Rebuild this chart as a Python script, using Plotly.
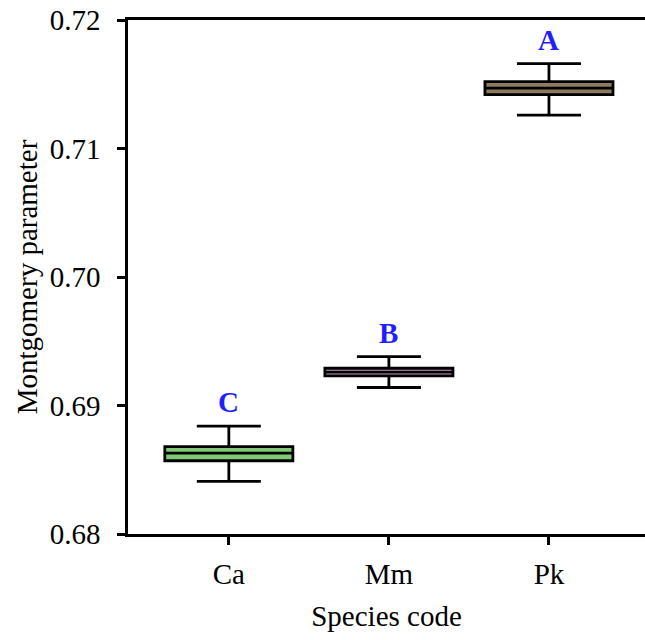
import plotly.graph_objects as go

species = ["Ca", "Mm", "Pk"]
lower = [0.6841, 0.6914, 0.7126]
q1 = [0.6857, 0.6923, 0.7142]
median = [0.6863, 0.6926, 0.7147]
q3 = [0.6868, 0.6929, 0.7152]
upper = [0.6884, 0.6938, 0.7166]
letters = ["C", "B", "A"]
colors = ["#7fc977", "#c29ec2", "#8c7b5c"]

SERIF = "Liberation Serif, Times New Roman, serif"

fig = go.Figure()
for i, sp in enumerate(species):
    fig.add_trace(go.Box(
        x=[sp], q1=[q1[i]], median=[median[i]], q3=[q3[i]],
        lowerfence=[lower[i]], upperfence=[upper[i]],
        fillcolor=colors[i], line=dict(color="black", width=2.8),
        width=0.8, whiskerwidth=0.5, boxpoints=False, showlegend=False,
        hoverinfo="skip",
    ))
    fig.add_annotation(
        x=sp, y=upper[i], text="<b>%s</b>" % letters[i], showarrow=False,
        yanchor="bottom", yshift=6,
        font=dict(family=SERIF, size=29, color="#1f1fff"),
    )

fig.update_layout(
    width=645, height=640,
    margin=dict(l=128, r=0, t=20, b=106),
    paper_bgcolor="white", plot_bgcolor="white",
    font=dict(family=SERIF, size=29, color="black"),
)
fig.update_xaxes(
    type="category", categoryorder="array", categoryarray=species,
    range=[-0.63, 2.6], showgrid=False, zeroline=False,
    showline=True, linecolor="black", linewidth=2.5, mirror=True,
    ticks="outside", ticklen=8, tickwidth=2.5, tickcolor="black",
    tickfont=dict(family=SERIF, size=29), ticklabelstandoff=4,
    title=dict(text="Species code", font=dict(family=SERIF, size=29), standoff=18),
)
fig.update_yaxes(
    range=[0.68, 0.72], tickvals=[0.68, 0.69, 0.70, 0.71, 0.72],
    ticktext=["0.68", "0.69", "0.70", "0.71", "0.72"],
    showgrid=False, zeroline=False,
    showline=True, linecolor="black", linewidth=2.5, mirror=False,
    ticks="outside", ticklen=8, tickwidth=2.5, tickcolor="black",
    tickfont=dict(family=SERIF, size=29), ticklabelstandoff=11,
    title=dict(text="Montgomery parameter", font=dict(family=SERIF, size=29), standoff=4),
)

fig.write_html("out.html")
